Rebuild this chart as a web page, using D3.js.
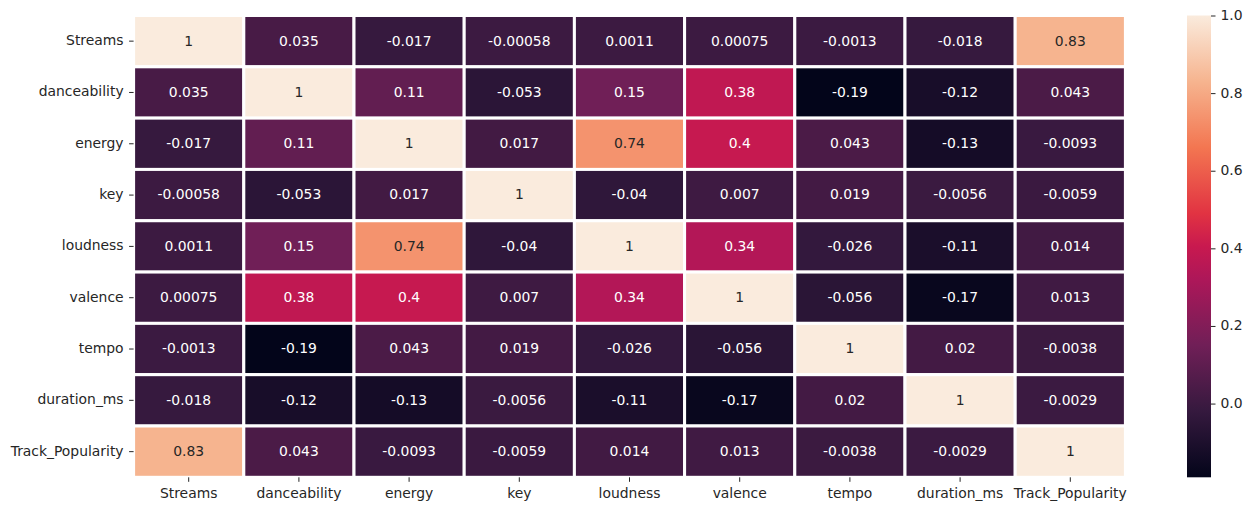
<!DOCTYPE html>
<html><head><meta charset="utf-8">
<script src="https://cdn.jsdelivr.net/npm/d3@7"></script>
<style>
html,body{margin:0;padding:0;background:#fff}
svg{display:block}
text{font-family:"DejaVu Sans",sans-serif;}
</style></head><body>
<svg id="c" width="1252" height="511"></svg>
<script>
const categories=["Streams","danceability","energy","key","loudness","valence","tempo","duration_ms","Track_Popularity"];
const cellLabels=[
["1","0.035","-0.017","-0.00058","0.0011","0.00075","-0.0013","-0.018","0.83"],
["0.035","1","0.11","-0.053","0.15","0.38","-0.19","-0.12","0.043"],
["-0.017","0.11","1","0.017","0.74","0.4","0.043","-0.13","-0.0093"],
["-0.00058","-0.053","0.017","1","-0.04","0.007","0.019","-0.0056","-0.0059"],
["0.0011","0.15","0.74","-0.04","1","0.34","-0.026","-0.11","0.014"],
["0.00075","0.38","0.4","0.007","0.34","1","-0.056","-0.17","0.013"],
["-0.0013","-0.19","0.043","0.019","-0.026","-0.056","1","0.02","-0.0038"],
["-0.018","-0.12","-0.13","-0.0056","-0.11","-0.17","0.02","1","-0.0029"],
["0.83","0.043","-0.0093","-0.0059","0.014","0.013","-0.0038","-0.0029","1"]];
const colorbarTicks=[0,0.2,0.4,0.6,0.8,1];
const valueDomain=[-0.19,1];
const rocketPositions=[0,1/7,2/7,3/7,0.5,4/7,5/7,6/7,1];
const rocketStops=["#03051a","#35193e","#701f57","#ad1759","#c8194f","#e13342","#f37651","#f6b48f","#faebdd"];

const L=133.6,R=1125.4,T=15.5,B=477.3, CL=1187,CR=1211;
const svg=d3.select("#c");
const x=d3.scaleBand().domain(categories).range([L,R]);
const y=d3.scaleBand().domain(categories).range([T,B]);
const t=d3.scaleLinear().domain(valueDomain).range([0,1]);
const ramp=d3.scaleLinear().domain(rocketPositions).range(rocketStops).interpolate(d3.interpolateRgb);
const color=v=>ramp(t(v));
function lum(c){const r=d3.rgb(c);const f=u=>{u/=255;return u<=0.03928?u/12.92:Math.pow((u+0.055)/1.055,2.4)};return .2126*f(r.r)+.7152*f(r.g)+.0722*f(r.b);}
const cells=[];
cellLabels.forEach((row,i)=>row.forEach((s,j)=>cells.push({r:categories[i],c:categories[j],s,v:+s})));
const g=svg.append("g");
g.selectAll("rect").data(cells).join("rect")
 .attr("x",d=>x(d.c)).attr("y",d=>y(d.r)).attr("width",x.bandwidth()).attr("height",y.bandwidth())
 .attr("fill",d=>color(d.v)).attr("stroke","#fff").attr("stroke-width",3);
g.selectAll("text").data(cells).join("text")
 .attr("x",d=>x(d.c)+x.bandwidth()/2).attr("y",d=>y(d.r)+y.bandwidth()/2-0.6).attr("dy","0.36em")
 .attr("text-anchor","middle").attr("font-size",13.9)
 .attr("fill",d=>lum(color(d.v))<0.408?"#fff":"#262626").text(d=>d.s);
function styleAxis(a){a.select(".domain").remove();a.selectAll("line").attr("stroke","#262626").attr("stroke-width",1);a.selectAll("text").attr("font-size",13.9).attr("font-family",'"DejaVu Sans",sans-serif').attr("fill","#262626");}
svg.append("g").attr("transform",`translate(0,${B})`).call(d3.axisBottom(x).tickSize(4.5).tickPadding(6.3)).call(styleAxis);
svg.append("g").attr("transform",`translate(${L},0)`).call(d3.axisLeft(y).tickSize(4.5).tickPadding(5.5)).call(styleAxis)
 .selectAll("text").attr("dy","0.28em");
const cy=d3.scaleLinear().domain(valueDomain).range([B,T]);
const defs=svg.append("defs").append("linearGradient").attr("id","cb").attr("x1",0).attr("x2",0).attr("y1",1).attr("y2",0);
rocketPositions.forEach((o,i)=>defs.append("stop").attr("offset",o).attr("stop-color",rocketStops[i]));
svg.append("rect").attr("x",CL).attr("y",T).attr("width",CR-CL).attr("height",B-T).attr("fill","url(#cb)");
svg.append("g").attr("transform",`translate(${CR},0)`).call(d3.axisRight(cy).tickValues(colorbarTicks).tickFormat(d3.format(".1f")).tickSize(4.5).tickPadding(5)).call(styleAxis)
 .selectAll("text").attr("dy","0.28em");
</script></body></html>
